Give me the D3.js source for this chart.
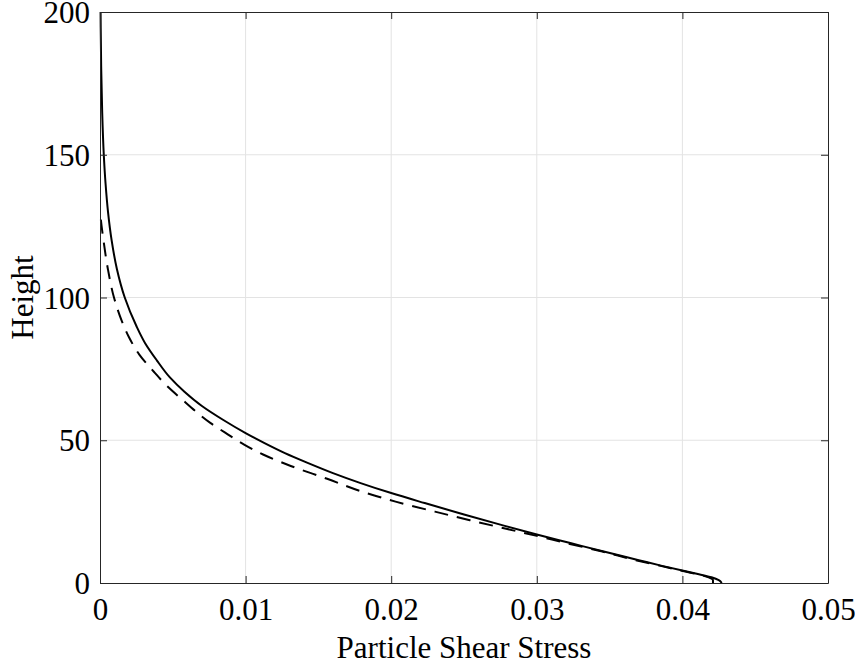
<!DOCTYPE html>
<html>
<head>
<meta charset="utf-8">
<script src="https://cdn.jsdelivr.net/npm/d3@7/dist/d3.min.js"></script>
<style>
  html, body { margin: 0; padding: 0; background: #ffffff; }
  svg { display: block; }
  text { font-family: "Liberation Serif", "Times New Roman", serif; fill: #000; }
</style>
</head>
<body>
<svg id="chart" width="855" height="665"></svg>
<script>
// ---- data ----
const xTicks = [0, 0.01, 0.02, 0.03, 0.04, 0.05];
const xTickLabels = ["0", "0.01", "0.02", "0.03", "0.04", "0.05"];
const yTicks = [0, 50, 100, 150, 200];
const yTickLabels = ["0", "50", "100", "150", "200"];

// solid curve: heights and particle shear stress
const solidHeight = [0, 1, 2, 3, 4, 6, 8, 11, 14, 17, 20, 24, 28, 31.5, 35, 38.5, 42, 45.5, 49, 52.5, 57, 62, 67, 72, 78, 84, 90, 100, 110, 120, 130, 140, 150, 165, 181, 200];
const solidStress = [0.0427, 0.0425, 0.0420, 0.0412, 0.0403, 0.0386, 0.0370, 0.0346, 0.0323, 0.0300, 0.0278, 0.0250, 0.0223, 0.0200, 0.0179, 0.0160, 0.0143, 0.0127, 0.0113, 0.0100, 0.0085, 0.0070, 0.0058, 0.0048, 0.0039, 0.0031, 0.0025, 0.0017, 0.00116, 0.00080, 0.00055, 0.00038, 0.00026, 0.00015, 0.00008, 0.00004];

// dashed curve
const dashHeight = [0, 1, 2, 3, 4, 6, 8, 11, 14, 16.5, 19, 22, 25, 28.5, 32, 36.5, 41, 45, 48.5, 52, 56, 60, 64, 69, 74, 80, 86, 92, 100, 110, 120, 125, 130];
const dashStress = [0.0421, 0.0421, 0.0418, 0.0411, 0.0402, 0.0385, 0.0368, 0.0345, 0.0320, 0.0300, 0.0279, 0.0254, 0.0230, 0.0203, 0.0180, 0.0156, 0.0131, 0.0112, 0.0099, 0.0088, 0.0076, 0.0066, 0.0057, 0.0046, 0.0037, 0.0027, 0.0020, 0.00148, 0.00096, 0.00054, 0.00024, 0.00011, 0.0];

// ---- layout ----
const L = 100, R = 828, T = 12, B = 583;
const FS = "31px";
const svg = d3.select("#chart");
const x = d3.scaleLinear().domain([0, 0.05]).range([L, R]);
const y = d3.scaleLinear().domain([0, 200]).range([B, T]);

const gridColor = "#e3e3e3";
const axisColor = "#262626";

// grid lines
svg.append("g").selectAll("line").data(xTicks.slice(1, -1)).join("line")
  .attr("x1", d => x(d)).attr("x2", d => x(d)).attr("y1", T).attr("y2", B)
  .attr("stroke", gridColor).attr("stroke-width", 1);
svg.append("g").selectAll("line").data(yTicks.slice(1, -1)).join("line")
  .attr("y1", d => y(d)).attr("y2", d => y(d)).attr("x1", L).attr("x2", R)
  .attr("stroke", gridColor).attr("stroke-width", 1);

// curves
const line = d3.line().x(d => x(d[1])).y(d => y(d[0])).curve(d3.curveMonotoneY);
const solid = solidHeight.map((h, i) => [h, solidStress[i]]);
const dashed = dashHeight.map((h, i) => [h, dashStress[i]]);

svg.append("path").datum(dashed).attr("d", line)
  .attr("fill", "none").attr("stroke", "#000").attr("stroke-width", 2)
  .attr("stroke-dasharray", "14,9");
svg.append("path").datum(solid).attr("d", line)
  .attr("fill", "none").attr("stroke", "#000").attr("stroke-width", 2);

// axes (inward ticks, all four sides)
const tickLen = 7;
const fmtX = d => xTickLabels[xTicks.indexOf(d)];
const fmtY = d => yTickLabels[yTicks.indexOf(d)];

function styleAxis(g) {
  g.select(".domain").attr("stroke", axisColor).attr("stroke-width", 1);
  g.selectAll(".tick line").attr("stroke", axisColor).attr("stroke-width", 1);
  g.selectAll(".tick text").style("font-family", '"Liberation Serif", "Times New Roman", serif')
    .style("font-size", FS).attr("fill", "#000");
}

const xb = svg.append("g").attr("transform", `translate(0,${B})`)
  .call(d3.axisBottom(x).tickValues(xTicks).tickFormat(fmtX).tickSizeInner(-tickLen).tickSizeOuter(0));
styleAxis(xb);
xb.selectAll(".tick text").attr("dy", null).attr("y", 37);

const xt = svg.append("g").attr("transform", `translate(0,${T})`)
  .call(d3.axisTop(x).tickValues(xTicks).tickFormat("").tickSizeInner(-tickLen).tickSizeOuter(0));
styleAxis(xt);

const yl = svg.append("g").attr("transform", `translate(${L},0)`)
  .call(d3.axisLeft(y).tickValues(yTicks).tickFormat(fmtY).tickSizeInner(-tickLen).tickSizeOuter(0));
styleAxis(yl);
yl.selectAll(".tick text").attr("x", -10).attr("dy", "0.34em");

const yr = svg.append("g").attr("transform", `translate(${R},0)`)
  .call(d3.axisRight(y).tickValues(yTicks).tickFormat("").tickSizeInner(-tickLen).tickSizeOuter(0));
styleAxis(yr);

// axis titles
svg.append("text").attr("x", (L + R) / 2).attr("y", 658).attr("text-anchor", "middle")
  .style("font-size", FS).text("Particle Shear Stress");
svg.append("text").attr("transform", `translate(33,${(T + B) / 2}) rotate(-90)`)
  .attr("text-anchor", "middle").style("font-size", FS).text("Height");
</script>
</body>
</html>
